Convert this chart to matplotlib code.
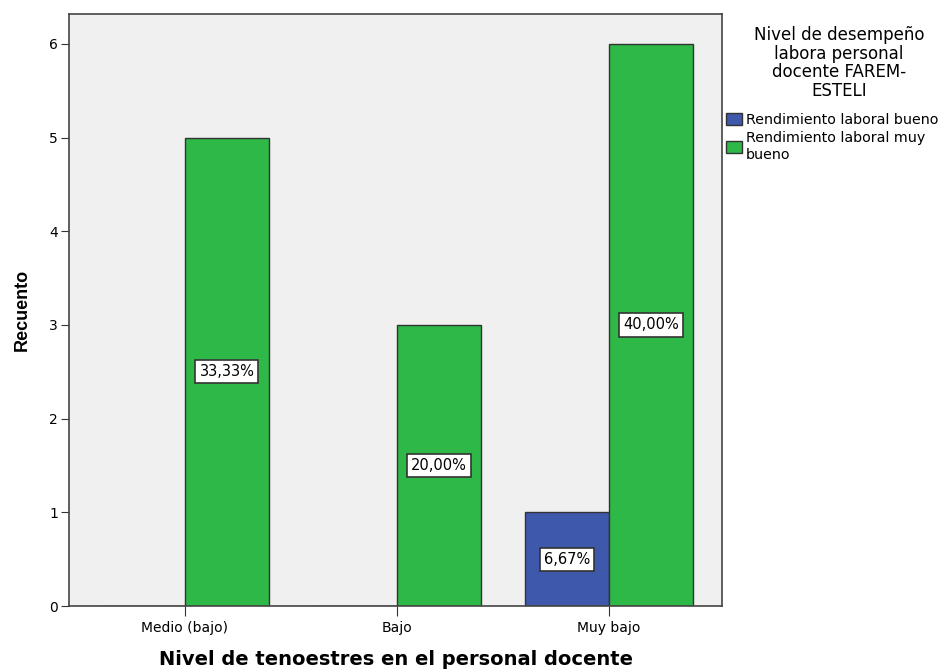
import numpy as np
import matplotlib
matplotlib.use("Agg")
import matplotlib.pyplot as plt
from matplotlib.patches import Patch

# datos del grafico
categorias = ['Medio (bajo)', 'Bajo', 'Muy bajo']
bueno = [0, 0, 1]
muy_bueno = [5, 3, 6]
series = ['Rendimiento laboral bueno', 'Rendimiento laboral muy\nbueno']
titulo_leyenda = 'Nivel de desempeño\nlabora personal\ndocente FAREM-\nESTELI'
total = 15

azul = '#3E58AC'
verde = '#2EB848'
borde = '#333333'

fig = plt.figure(figsize=(9.46, 6.69), dpi=100)
ax = fig.add_axes([69 / 946, 63 / 669, (722 - 69) / 946, (606 - 14) / 669])
ax.set_facecolor('#F0F0F0')

x = np.arange(len(categorias))
w = 0.396
ax.bar(x - w / 2, bueno, w, color=azul, edgecolor=borde, linewidth=1)
ax.bar(x + w / 2, muy_bueno, w, color=verde, edgecolor=borde, linewidth=1)

# etiquetas de porcentaje en el centro de cada barra
for xs, vals in ((x - w / 2, bueno), (x + w / 2, muy_bueno)):
    for xi, v in zip(xs, vals):
        if v == 0:
            continue
        txt = ('%.2f%%' % (100.0 * v / total)).replace('.', ',')
        ax.text(xi, v / 2, txt, ha='center', va='center', fontsize=10.5,
                family='DejaVu Sans',
                bbox=dict(boxstyle='square,pad=0.28', facecolor='white',
                          edgecolor=borde, linewidth=1.2))

ax.set_xlim(-0.547, 2.533)
ax.set_ylim(0, 6.32)
ax.set_xticks(x)
ax.set_xticklabels(categorias, fontsize=10, family='DejaVu Sans')
ax.set_yticks(range(7))
ax.tick_params(axis='y', labelsize=10, length=6, color=borde, pad=2)
ax.tick_params(axis='x', length=7, color=borde)
for s in ax.spines.values():
    s.set_color('#444444')
    s.set_linewidth(1.2)

ax.set_xlabel('Nivel de tenoestres en el personal docente', fontsize=14,
              fontweight='bold', family='DejaVu Sans')
ax.xaxis.set_label_coords(0.5, -0.074)
ax.set_ylabel('Recuento', fontsize=13, fontweight='bold',
              family='Liberation Sans')
ax.yaxis.set_label_coords(-0.058, 0.5)

# leyenda
fig.text(839 / 946, 1 - 26 / 669, titulo_leyenda, ha='center', va='top',
         fontsize=12, family='DejaVu Sans', multialignment='center',
         linespacing=1.05)
handles = [Patch(facecolor=azul, edgecolor=borde),
           Patch(facecolor=verde, edgecolor=borde)]
fig.legend(handles, series, loc='upper left',
           bbox_to_anchor=(716 / 946, 1 - 103 / 669), frameon=False,
           prop={'family': 'DejaVu Sans', 'size': 10.3},
           handlelength=1.1, handleheight=0.85, handletextpad=0.3,
           labelspacing=0.3, borderpad=0.2)

fig.savefig('out.png', dpi=100)
